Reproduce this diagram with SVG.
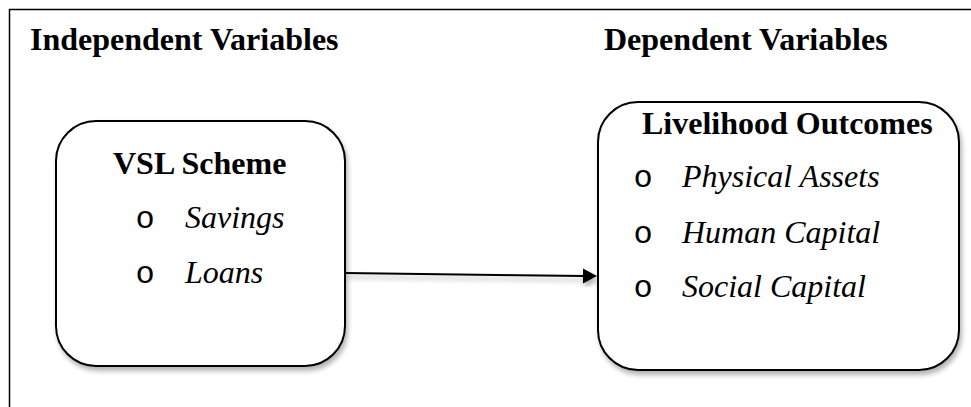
<svg xmlns="http://www.w3.org/2000/svg" width="971" height="407" viewBox="0 0 971 407">
  <defs>
    <filter id="shadow" x="-10%" y="-10%" width="130%" height="130%">
      <feGaussianBlur in="SourceAlpha" stdDeviation="2.5"/>
      <feOffset dx="2" dy="4" result="b"/>
      <feComponentTransfer><feFuncA type="linear" slope="0.3"/></feComponentTransfer>
      <feMerge><feMergeNode/><feMergeNode in="SourceGraphic"/></feMerge>
    </filter>
  </defs>
  <style>
    .frame { fill: none; stroke: #000; stroke-width: 1.5; }
    .box { fill: #fff; stroke: #000; stroke-width: 2; }
    .head { font-family: "Liberation Serif", "Times New Roman", serif; font-weight: bold; font-size: 32px; fill: #000; }
    .item { font-family: "Liberation Serif", "Times New Roman", serif; font-style: italic; font-size: 32px; fill: #000; }
    .bullet { font-family: "Liberation Mono", "Courier New", monospace; font-size: 32px; fill: #000; text-anchor: middle; }
    .conn { stroke: #000; stroke-width: 2; fill: none; }
  </style>
  <rect x="0" y="0" width="971" height="407" fill="#fff"/>
  <path class="frame" d="M9.5 420 V9.5 H980"/>
  <g id="headings">
    <text class="head" x="30" y="50">Independent Variables</text>
    <text class="head" x="604" y="50">Dependent Variables</text>
  </g>
  <g id="connectors" filter="url(#shadow)">
    <line class="conn" x1="345" y1="273" x2="584" y2="276"/>
    <polygon points="583,268.5 597,276 583,283.5" fill="#000"/>
  </g>
  <g id="vsl-scheme">
    <rect class="box" x="56" y="121" width="289" height="245" rx="40" ry="40" filter="url(#shadow)"/>
    <text class="head" x="113" y="174">VSL Scheme</text>
    <text class="bullet" x="145" y="228">o</text>
    <text class="item" x="185" y="228">Savings</text>
    <text class="bullet" x="145" y="283">o</text>
    <text class="item" x="185" y="283">Loans</text>
  </g>
  <g id="livelihood-outcomes">
    <rect class="box" x="598" y="102" width="361" height="268" rx="40" ry="40" filter="url(#shadow)"/>
    <text class="head" x="642" y="134">Livelihood Outcomes</text>
    <text class="bullet" x="643" y="187">o</text>
    <text class="item" x="682" y="187">Physical Assets</text>
    <text class="bullet" x="643" y="243">o</text>
    <text class="item" x="682" y="243">Human Capital</text>
    <text class="bullet" x="643" y="297">o</text>
    <text class="item" x="682" y="297">Social Capital</text>
  </g>
</svg>
